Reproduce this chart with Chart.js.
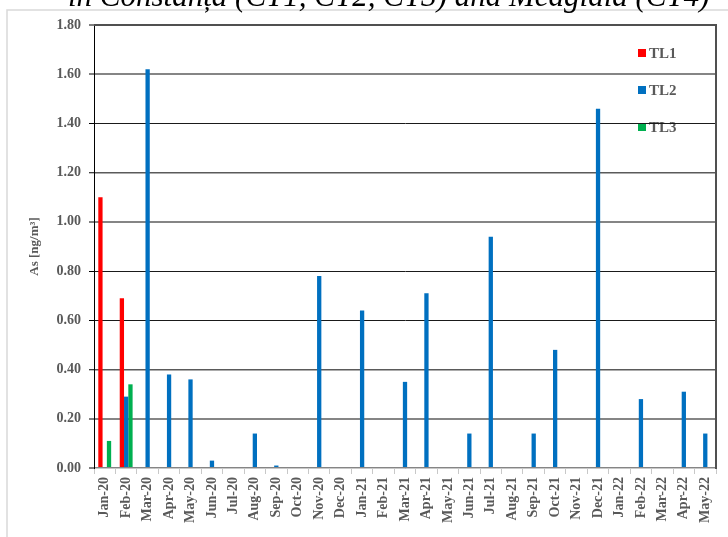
<!DOCTYPE html>
<html>
<head>
<meta charset="utf-8">
<script src="https://cdn.jsdelivr.net/npm/chart.js@4.4.1/dist/chart.umd.min.js"></script>
<style>
  html, body { margin: 0; padding: 0; background: #ffffff; }
  #wrap { width: 728px; height: 537px; position: relative; }
</style>
</head>
<body>
<div id="wrap"><canvas id="c" width="728" height="537"></canvas></div>
<script>
// Monthly arsenic concentrations, three sampling points
const months = ['Jan-20','Feb-20','Mar-20','Apr-20','May-20','Jun-20','Jul-20','Aug-20','Sep-20','Oct-20','Nov-20','Dec-20',
                'Jan-21','Feb-21','Mar-21','Apr-21','May-21','Jun-21','Jul-21','Aug-21','Sep-21','Oct-21','Nov-21','Dec-21',
                'Jan-22','Feb-22','Mar-22','Apr-22','May-22'];
const tl1 = [1.10, 0.69, null, null, null, null, null, null, null, null, null, null,
             null, null, null, null, null, null, null, null, null, null, null, null,
             null, null, null, null, null];
const tl2 = [null, 0.29, 1.62, 0.38, 0.36, 0.03, null, 0.14, 0.01, null, 0.78, null,
             0.64, null, 0.35, 0.71, null, 0.14, 0.94, null, 0.14, 0.48, null, 1.46,
             null, 0.28, null, 0.31, 0.14];
const tl3 = [0.11, 0.34, null, null, null, null, null, null, null, null, null, null,
             null, null, null, null, null, null, null, null, null, null, null, null,
             null, null, null, null, null];
const seriesNames = ['TL1', 'TL2', 'TL3'];
const seriesColors = ['#ff0000', '#0070c0', '#00b050'];
const yTicks = [0, 0.2, 0.4, 0.6, 0.8, 1.0, 1.2, 1.4, 1.6, 1.8];
const titleText = 'in Constanța (CT1, CT2, CT3) and Medgidia (CT4)';
const yTitle = 'As [ng/m³]';

const labelGray = '#595959';
const serif = "'Liberation Serif', 'Times New Roman', serif";

// Frame, heading line and in-plot key
const decor = {
  id: 'decor',
  beforeDraw(chart) {
    const ctx = chart.ctx;
    ctx.save();
    ctx.fillStyle = '#ffffff';
    ctx.fillRect(0, 0, chart.width, chart.height);
    // outer frame
    ctx.strokeStyle = '#d9d9d9';
    ctx.lineWidth = 1.5;
    ctx.strokeRect(7, 10, 900, 700);
    // heading (only its lower part fits on the canvas)
    ctx.fillStyle = '#000000';
    ctx.font = 'italic 31px ' + serif;
    ctx.textBaseline = 'alphabetic';
    ctx.textAlign = 'left';
    ctx.fillText(titleText, 68, 6);
    // key
    ctx.font = 'bold 15px ' + serif;
    ctx.textBaseline = 'middle';
    const rows = [53, 90, 127];
    seriesNames.forEach((n, i) => {
      ctx.fillStyle = seriesColors[i];
      ctx.fillRect(638, rows[i] - 4, 8, 8);
      ctx.fillStyle = labelGray;
      ctx.fillText(n, 649, rows[i] + 1);
    });
    ctx.restore();
  },
  afterDatasetsDraw(chart) {
    const ctx = chart.ctx;
    const a = chart.chartArea;
    ctx.save();
    ctx.strokeStyle = '#505050';
    ctx.lineWidth = 2;
    ctx.beginPath();
    ctx.moveTo(a.left, a.top);
    ctx.lineTo(a.right, a.top);
    ctx.lineTo(a.right, a.bottom + 1);
    ctx.stroke();
    ctx.restore();
  }
};

const datasets = [tl1, tl2, tl3].map((d, i) => ({
  label: seriesNames[i],
  data: d,
  backgroundColor: seriesColors[i],
  borderWidth: 0,
  categoryPercentage: 0.6,
  barPercentage: 1.0
}));

new Chart(document.getElementById('c'), {
  type: 'bar',
  data: { labels: months, datasets },
  options: {
    responsive: false,
    animation: false,
    layout: { padding: { top: 25, right: 12, bottom: 0, left: 0 } },
    plugins: { legend: { display: false }, tooltip: { enabled: false }, title: { display: false } },
    scales: {
      x: {
        afterFit(s) { s.height = 69; },
        grid: { offset: true, drawOnChartArea: false, drawTicks: true, tickLength: 6, color: '#c8c8c8', lineWidth: 1 },
        border: { display: true, color: '#c8c8c8', width: 1 },
        ticks: {
          autoSkip: false, maxRotation: 90, minRotation: 90, padding: 3,
          color: labelGray, font: { family: serif, size: 14, weight: 'bold' }
        }
      },
      y: {
        min: 0, max: 1.8,
        afterFit(s) { s.width = 94; },
        afterBuildTicks(s) { s.ticks = yTicks.map(v => ({ value: v })); },
        grid: {
          drawTicks: true, tickLength: 5, tickColor: '#000000', tickWidth: 1,
          color(c) {
            const v = Math.round(c.tick.value * 10) / 10;
            if (v === 1.4 || v === 0.8 || v === 0.6) return '#1a1a1a';
            if (v === 1.2 || v === 0.4) return '#5a5a5a';
            return '#858585';
          },
          lineWidth(c) {
            const v = Math.round(c.tick.value * 10) / 10;
            if (v === 1.4 || v === 0.8 || v === 0.6) return 1;
            if (v === 1.2 || v === 0.4) return 1.5;
            return 2;
          }
        },
        border: { display: true, color: '#000000', width: 1 },
        ticks: {
          padding: 8, color: labelGray,
          font: { family: serif, size: 14, weight: 'bold' },
          callback: v => Number(v).toFixed(2)
        },
        title: {
          display: true, text: yTitle, color: labelGray,
          font: { family: serif, size: 13, weight: 'bold' },
          padding: { top: 27, bottom: 0 }
        }
      }
    }
  },
  plugins: [decor]
});
</script>
</body>
</html>
